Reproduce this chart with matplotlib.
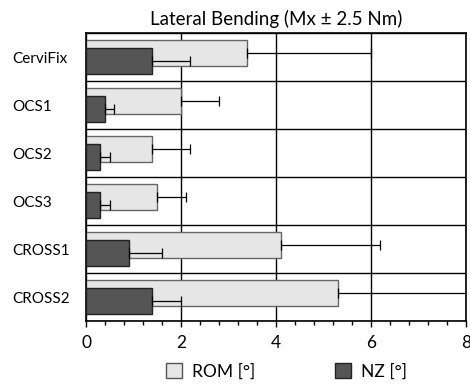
import numpy as np
import matplotlib.pyplot as plt
from matplotlib.patches import Patch
from matplotlib.ticker import MultipleLocator

plt.rcParams['font.family'] = ['Lato', 'DejaVu Sans']

# Data
categories = ["CerviFix", "OCS1", "OCS2", "OCS3", "CROSS1", "CROSS2"]
rom = [3.4, 2.0, 1.4, 1.5, 4.1, 5.3]
rom_sd = [2.6, 0.8, 0.8, 0.6, 2.1, 3.0]
nz = [1.4, 0.4, 0.3, 0.3, 0.9, 1.4]
nz_sd = [0.8, 0.2, 0.2, 0.2, 0.7, 0.6]

y = np.arange(len(categories))
h = 0.54
off = 0.09

fig = plt.figure(figsize=(4.7, 3.84), dpi=100)
ax = fig.add_axes([0.183, 0.164, 0.808, 0.75])

ax.barh(y - off, rom, height=h, color="#e6e6e6", edgecolor="#666666", linewidth=1, zorder=2)
ax.barh(y + off, nz, height=h, color="#555555", edgecolor="#222222", linewidth=1, zorder=3)

ax.errorbar(rom, y - off, xerr=[np.zeros(len(rom)), rom_sd], fmt="none",
            ecolor="black", elinewidth=0.9, capsize=3.6, capthick=0.9, zorder=4)
ax.errorbar(nz, y + off, xerr=[np.zeros(len(nz)), nz_sd], fmt="none",
            ecolor="black", elinewidth=0.9, capsize=3.6, capthick=0.9, zorder=4)

ax.set_xlim(0, 8)
ax.set_ylim(len(categories) - 0.5, -0.5)
ax.xaxis.set_major_locator(MultipleLocator(2))
ax.xaxis.set_minor_locator(MultipleLocator(0.4))
ax.set_yticks(y)
ax.set_yticklabels(categories, ha="left", fontsize=11)
ax.set_yticks(np.arange(len(categories) + 1) - 0.5, minor=True)
ax.tick_params(axis="y", which="both", length=0, pad=53)
ax.tick_params(axis="x", which="major", length=4, width=1, labelsize=12.5, pad=6)
ax.tick_params(axis="x", which="minor", length=3, width=1)

ax.set_axisbelow(True)
ax.grid(axis="x", which="major", color="black", linewidth=1)
ax.grid(axis="y", which="minor", color="black", linewidth=1)
for s in ax.spines.values():
    s.set_linewidth(1.2)

ax.set_title("Lateral Bending (Mx \u00b1 2.5 Nm)", fontsize=13.5, pad=6)

handles = [Patch(facecolor="#e6e6e6", edgecolor="#555555", label="ROM [\u00b0]"),
           Patch(facecolor="#555555", edgecolor="#222222", label="NZ [\u00b0]")]
fig.legend(handles=handles, loc="center", bbox_to_anchor=(0.61, 0.033), ncol=2,
           frameon=False, fontsize=12.5, handlelength=0.9, handleheight=0.9,
           columnspacing=4.6, handletextpad=0.6)

fig.savefig("out.png", dpi=100)
